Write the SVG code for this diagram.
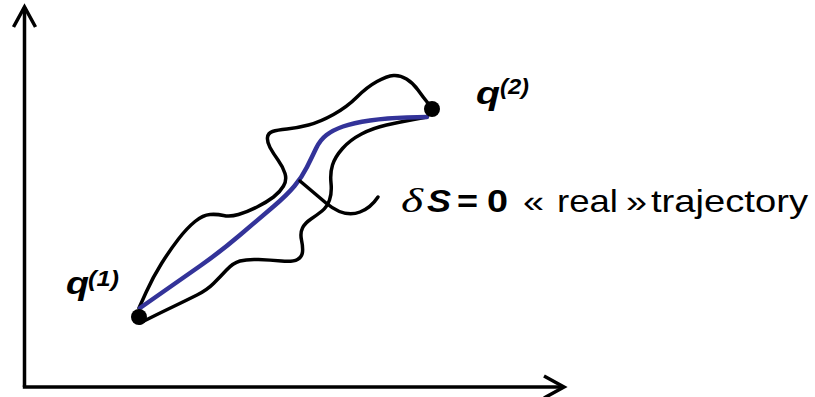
<svg xmlns="http://www.w3.org/2000/svg" width="815" height="397" viewBox="0 0 815 397">
<style>
.ax{fill:none;stroke:#000;stroke-width:3.5}
.path{fill:none;stroke:#000;stroke-width:3.5;stroke-linecap:round;stroke-linejoin:round}
.real{fill:none;stroke:#333399;stroke-width:4.5;stroke-linecap:round;stroke-linejoin:round}
.pt{fill:#000}
.lbl{font-family:"Liberation Sans",Arial,sans-serif;font-weight:bold;font-style:italic;fill:#000}
.txt{font-family:"Liberation Sans",Arial,sans-serif;font-size:32px;fill:#000}
.b{font-weight:bold}
.sym{font-family:"Liberation Serif","Times New Roman",serif;font-style:italic;font-size:33px;fill:#000}
</style>
<defs>
<marker id="open" markerUnits="userSpaceOnUse" markerWidth="30" markerHeight="30" viewBox="-25 -15 30 30" refX="0" refY="0" orient="auto">
<path d="M-20,-11 L0,0 L-20,11" fill="none" stroke="#000" stroke-width="3.5"/>
</marker>
</defs>
<g id="axes">
<path class="ax" d="M24.5,387 L24.5,7" marker-end="url(#open)"/>
<path class="ax" d="M22.8,387 L564,387" marker-end="url(#open)"/>
</g>
<g id="connectors">
<path id="path-upper" class="path" d="M139,308 L146,292.5 Q153,277 161.5,263.5 Q170,250 178.5,239 Q187,228 195,221.5 Q203,215 210,214.5 Q217,214 223.5,215.5 Q230,217 238.5,214.5 Q247,212 257,207 Q267,202 273.5,197 Q280,192 283.5,186 Q287,180 285,173.5 Q283,167 278,160 Q273,153 270,147.5 Q267,142 267.5,137.5 Q268,133 272.5,131.5 Q277,130 287,129 Q297,128 308.5,125 Q320,122 333.5,114.5 Q347,107 357,97 Q367,87 377,81.5 Q387,76 393.5,75.5 Q400,75 406.5,79 Q413,83 418,90 Q423,97 427.5,102.5 L432,108"/>
<path id="path-lower" class="path" d="M140,323 L150,318 Q160,313 173.5,306.5 Q187,300 197,295 Q207,290 213.5,283.5 Q220,277 226.5,270 Q233,263 240,261 Q247,259 258.5,259.5 Q270,260 281.5,261 Q293,262 297.5,259.5 Q302,257 302.5,252 Q303,247 301.5,240 Q300,233 302.5,228 Q305,223 311,219 Q317,215 322,211 Q327,207 329.5,200 Q332,193 331,183 Q330,173 332.5,165 Q335,157 342.5,148.5 Q350,140 361.5,134 Q373,128 386.5,125 Q400,122 413.5,119.5 L427,117"/>
<path id="path-real" class="real" d="M140,308 L160,294 Q180,280 200,266 Q220,252 240,235 Q260,218 273.5,206.5 Q287,195 294.5,186 Q302,177 307,167 Q312,157 316,148.5 Q320,140 326.5,135 Q333,130 343,126.5 Q353,123 370,120.5 Q387,118 407,117.5 L427,117"/>
<path id="pointer" class="path" d="M300,181 L326,203 C338,213 350,216 360,212 C368,209 374,203 378,197"/>
</g>
<g id="q1">
<circle class="pt" cx="139" cy="317" r="8"/>
<text class="lbl" x="66" y="294" font-size="32" textLength="23" lengthAdjust="spacingAndGlyphs">q</text>
<text class="lbl" x="88" y="286" font-size="22" textLength="31" lengthAdjust="spacingAndGlyphs">(1)</text>
</g>
<g id="q2">
<circle class="pt" cx="432" cy="109" r="8"/>
<text class="lbl" x="476" y="104" font-size="32" textLength="24" lengthAdjust="spacingAndGlyphs">q</text>
<text class="lbl" x="500" y="94" font-size="22" textLength="29" lengthAdjust="spacingAndGlyphs">(2)</text>
</g>
<g id="label">
<text class="sym" x="401" y="212" textLength="22" lengthAdjust="spacingAndGlyphs">δ</text>
<text class="lbl" x="427" y="212" font-size="31" textLength="24" lengthAdjust="spacingAndGlyphs">S</text>
<text class="txt b" x="457" y="212" textLength="21" lengthAdjust="spacingAndGlyphs">=</text>
<text class="txt b" x="487" y="212" textLength="21" lengthAdjust="spacingAndGlyphs">0</text>
<text class="txt" x="523" y="212" textLength="21" lengthAdjust="spacingAndGlyphs">«</text>
<text class="txt" x="557" y="212" textLength="61" lengthAdjust="spacingAndGlyphs">real</text>
<text class="txt" x="626" y="212" textLength="21" lengthAdjust="spacingAndGlyphs">»</text>
<text class="txt" x="651" y="212" textLength="157" lengthAdjust="spacingAndGlyphs">trajectory</text>
</g>
</svg>
